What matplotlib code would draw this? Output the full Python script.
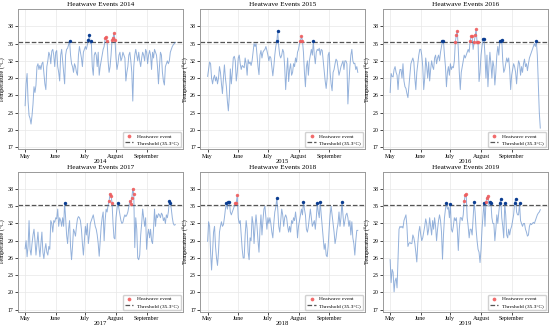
import numpy as np
import pandas as pd
import matplotlib
matplotlib.use("Agg")
import matplotlib.pyplot as plt
import matplotlib.dates as mdates

plt.rcParams['font.family'] = ['Liberation Serif', 'DejaVu Serif']

THRESHOLD = 35.3
years = [2014, 2015, 2016, 2017, 2018, 2019]

temps_2014 = [
    # May
    24.2, 28.0, 29.8, 25.0, 22.5, 22.0, 21.0, 22.5, 24.5, 27.5,
    26.5, 27.8, 31.0, 31.5, 30.5, 31.2, 30.5, 31.5, 31.8, 30.0,
    28.0, 27.0, 31.0, 32.0, 33.5, 33.0, 31.5, 33.7, 34.0, 33.0,
    31.0,
    # June
    33.5, 33.8, 31.0, 30.0, 28.5, 33.0, 34.0, 32.0, 30.0, 28.0,
    33.0, 34.0, 34.2, 34.8, 35.5, 33.0, 31.5, 31.0, 30.0, 31.5,
    31.0, 30.0, 29.5, 33.0, 34.5, 33.5, 32.5, 31.0, 33.5, 34.0,
    # July
    34.5, 34.0, 34.8, 35.7, 36.5, 35.0, 35.4, 31.0, 29.5, 33.0,
    33.5, 33.0, 31.0, 33.5, 29.5, 31.0, 32.0, 33.0, 34.0, 34.5,
    35.9, 36.2, 35.4, 32.0, 30.0, 31.0, 33.0, 35.6, 36.0, 36.8,
    35.6,
    # August
    32.5, 30.5, 31.5, 33.0, 33.5, 32.0, 32.5, 33.5, 33.0, 32.5,
    28.5, 30.0, 31.0, 33.0, 33.5, 32.0, 30.0, 25.0, 31.0, 33.0,
    34.0, 33.0, 32.0, 33.5, 32.0, 31.0, 32.5, 33.5, 33.0, 32.0,
    34.0,
    # September
    33.5, 31.5, 33.0, 33.8, 33.0, 30.5, 33.5, 32.5, 34.0, 33.5,
    33.0, 31.0, 28.0, 31.0, 33.5, 33.0, 30.0, 28.5, 27.8, 31.0,
    31.5, 32.0, 31.5, 32.0, 33.5, 34.0, 34.5, 34.8, 35.0, 35.2,
]

temps_2015 = [
    # May
    29.3, 30.5, 31.8, 31.5, 29.0, 28.0, 29.0, 29.5, 28.5, 29.2,
    28.0, 29.0, 31.0, 30.0, 28.0, 26.3, 29.0, 31.3, 29.0, 27.5,
    25.0, 23.3, 26.0, 30.6, 28.0, 30.0, 32.5, 32.8, 32.0, 28.5,
    30.0,
    # June
    32.5, 33.0, 31.5, 30.5, 31.2, 31.0, 30.8, 32.5, 31.5, 29.5,
    32.2, 31.5, 31.8, 31.2, 32.0, 33.5, 35.0, 34.5, 35.0, 33.0,
    31.0, 29.6, 33.0, 33.8, 32.5, 33.5, 33.8, 34.0, 34.5, 33.8,
    # July
    33.0, 32.0, 32.8, 32.5, 31.0, 29.4, 31.0, 33.0, 34.5, 35.4,
    37.2, 34.5, 33.0, 32.5, 33.0, 34.0, 33.5, 31.0, 27.0, 30.0,
    32.5, 28.4, 30.5, 31.5, 29.5, 30.0, 31.5, 31.0, 32.5, 31.8,
    33.5,
    # August
    34.0, 35.0, 35.5, 36.3, 35.5, 33.5, 30.0, 27.5, 31.0, 32.0,
    29.5, 32.0, 33.0, 34.0, 33.0, 35.4, 33.0, 31.5, 33.5, 34.0,
    33.8, 34.2, 33.0, 34.0, 33.8, 32.0, 30.0, 28.5, 27.2, 29.0,
    33.0,
    # September
    33.5, 30.0, 28.0, 26.8, 30.0, 30.5, 31.5, 32.3, 32.0, 30.8,
    29.5, 30.2, 31.0, 31.5, 32.0, 30.5, 32.0, 32.0, 31.5, 24.5,
    28.0, 31.0, 33.0, 34.0, 32.0, 31.5, 31.6, 30.5, 31.0, 30.0,
]

temps_2016 = [
    # May
    26.5, 29.8, 29.3, 29.2, 30.5, 31.0, 30.0, 29.5, 27.0, 29.5,
    30.5, 30.5, 29.0, 31.5, 28.5, 27.5, 27.2, 26.3, 25.6, 27.5,
    29.5, 31.5, 32.0, 32.5, 31.8, 29.0, 27.0, 30.0, 31.5, 33.0,
    34.0,
    # June
    34.0, 33.0, 31.0, 27.0, 29.0, 32.5, 31.0, 29.0, 31.8, 28.5,
    30.5, 32.0, 31.0, 30.5, 32.5, 33.0, 31.5, 32.5, 33.0, 32.0,
    33.5, 34.5, 35.5, 35.4, 33.0, 31.0, 27.5, 30.0, 31.0, 29.5,
    # July
    31.5, 30.5, 31.0, 30.8, 32.0, 35.3, 36.5, 37.2, 34.0, 30.0,
    27.0, 30.0, 31.0, 32.0, 33.0, 32.5, 33.0, 33.5, 34.0, 33.5,
    35.5, 36.3, 36.3, 34.0, 35.2, 36.5, 37.5, 35.3, 35.3, 28.4,
    30.0,
    # August
    33.0, 34.5, 35.8, 35.8, 33.0, 29.0, 33.0, 27.5, 31.0, 33.5,
    31.5, 29.0, 32.0, 31.0, 27.8, 30.0, 33.0, 34.5, 33.0, 35.4,
    35.5, 35.7, 32.0, 30.0, 30.5, 31.5, 32.5, 31.8, 32.5, 30.5,
    27.0,
    # September
    29.5, 30.5, 31.5, 31.0, 30.0, 28.0, 30.5, 32.0, 31.5, 29.5,
    31.0, 30.0, 31.5, 32.3, 31.0, 31.5, 30.3, 31.5, 32.5, 33.0,
    33.5, 34.0, 34.5, 35.0, 34.5, 35.4, 33.0, 28.0, 23.0, 20.3,
]

temps_2017 = [
    # May
    27.6, 29.0, 26.2, 28.0, 32.5, 27.5, 26.5, 28.5, 30.0, 31.0,
    29.0, 26.5, 28.5, 30.5, 28.0, 26.2, 28.5, 30.5, 27.0, 25.9,
    27.5, 28.5, 27.0, 26.5, 28.0, 27.5, 32.5, 32.0, 30.5, 32.5,
    32.2,
    # June
    33.0, 32.8, 34.5, 31.5, 33.0, 32.5, 31.5, 33.0, 31.5, 35.6,
    33.0, 30.0, 28.5, 31.0, 32.5, 28.0, 25.7, 28.0, 31.0, 30.5,
    29.8, 31.5, 32.8, 33.2, 33.0, 32.5, 31.0, 28.5, 26.5, 29.0,
    # July
    31.5, 30.0, 32.0, 28.5, 30.0, 32.0, 32.5, 33.0, 33.5, 32.5,
    31.5, 31.0, 30.0, 28.5, 26.3, 29.0, 31.5, 33.0, 34.0, 29.0,
    32.5, 34.5, 34.0, 35.2, 35.9, 37.2, 36.8, 35.6, 32.0, 29.5,
    29.3,
    # August
    33.0, 34.5, 35.6, 34.5, 33.5, 32.5, 32.0, 32.2, 33.0, 33.5,
    33.2, 33.5, 34.0, 35.0, 35.9, 35.4, 36.4, 38.0, 37.1, 27.8,
    33.0, 31.0, 26.0, 25.7, 26.5, 30.0, 32.0, 34.5, 33.0, 31.5,
    33.0,
    # September
    27.5, 30.0, 31.0, 29.5, 31.0, 29.0, 28.5, 31.0, 34.5, 31.5,
    33.5, 33.0, 33.7, 33.5, 33.0, 33.8, 33.5, 32.5, 33.0, 32.0,
    33.5, 33.0, 34.0, 35.9, 35.6, 34.5, 33.0, 32.0, 31.7, 31.8,
]

temps_2018 = [
    # May
    28.9, 32.3, 31.5, 27.0, 23.9, 27.0, 30.5, 31.5, 28.0, 26.0,
    24.7, 27.0, 30.5, 31.5, 32.3, 31.5, 31.8, 33.0, 34.5, 35.5,
    34.5, 35.8, 35.8, 34.0, 33.5, 34.0, 34.5, 35.0, 35.5, 35.6,
    36.9,
    # June
    33.0, 32.0, 32.5, 30.0, 27.5, 26.0, 26.0, 30.0, 32.5, 31.0,
    27.0, 25.7, 29.5, 29.0, 33.2, 32.0, 28.5, 31.5, 33.5, 31.5,
    29.0, 27.0, 31.0, 33.5, 30.0, 32.5, 34.5, 35.0, 33.0, 31.0,
    # July
    33.0, 32.0, 33.0, 32.0, 30.5, 29.5, 32.0, 34.0, 34.8, 36.4,
    34.5, 31.5, 30.5, 32.5, 34.5, 33.5, 31.5, 33.0, 33.5, 33.0,
    31.5, 30.5, 31.5, 30.5, 32.5, 32.0, 33.0, 32.5, 34.0, 32.5,
    29.5,
    # August
    31.5, 32.5, 33.5, 34.5, 33.5, 35.8, 34.5, 33.5, 31.0, 30.5,
    31.5, 33.0, 34.5, 33.0, 31.5, 32.0, 32.5, 31.0, 33.0, 35.5,
    34.0, 33.0, 35.8, 33.5, 31.5, 29.5, 27.5, 28.5, 26.5, 26.2,
    28.0,
    # September
    31.0, 33.5, 35.0, 33.5, 32.0, 30.5, 28.5, 29.5, 31.0, 32.0,
    34.0, 31.5, 33.0, 35.8, 33.5, 31.5, 32.5, 33.5, 33.8, 33.0,
    31.5, 32.5, 30.0, 32.3, 29.5, 28.5, 26.5, 29.0, 30.8, 30.8,
]

temps_2019 = [
    # May
    25.7, 21.7, 24.0, 23.5, 20.1, 22.0, 22.5, 20.8, 26.0, 31.0,
    31.5, 31.3, 31.5, 31.2, 32.5, 33.0, 33.5, 31.5, 28.0, 28.5,
    28.7, 28.5, 28.5, 30.0, 29.5, 28.5, 27.0, 25.3, 28.5, 30.5,
    31.5,
    # June
    30.0, 29.0, 29.5, 30.5, 31.5, 32.8, 32.0, 30.0, 31.0, 33.0,
    31.5, 30.0, 32.5, 31.0, 33.0, 31.5, 29.0, 31.0, 32.5, 33.5,
    32.5, 30.5, 25.8, 30.0, 33.0, 34.5, 35.6, 34.5, 34.8, 33.0,
    # July
    35.4, 31.0, 30.5, 31.5, 33.0, 32.5, 33.0, 31.0, 27.3, 31.0,
    33.0, 33.0, 32.5, 33.5, 35.9, 37.0, 37.1, 33.0, 31.5, 29.5,
    31.0, 31.0, 30.0, 33.0, 35.8, 34.0, 31.0, 29.0, 27.5, 27.0,
    25.2,
    # August
    27.5, 31.0, 33.5, 35.6, 31.5, 35.8, 36.5, 36.8, 35.0, 35.8,
    35.6, 33.0, 32.0, 32.0, 29.0, 31.0, 33.5, 32.0, 34.0, 35.5,
    36.3, 33.0, 31.5, 29.5, 35.5, 33.5, 30.0, 29.5, 31.0, 30.0,
    31.0,
    # September
    31.5, 32.5, 33.5, 35.5, 36.3, 34.0, 33.5, 33.5, 35.5, 32.5,
    32.0, 31.5, 32.0, 32.0, 31.0, 30.5, 29.8, 30.0, 31.5, 32.0,
    31.8, 32.0, 32.2, 32.0, 32.5, 33.0, 33.5, 33.8, 34.0, 34.4,
]

# days flagged as heatwave events (month-day)
heatwave_2014 = ['07-21', '07-22', '07-23', '07-28', '07-29', '07-30', '07-31']
heatwave_2015 = ['08-03', '08-04', '08-05']
heatwave_2016 = ['07-06', '07-07', '07-08', '07-21', '07-22', '07-23',
                 '07-25', '07-26', '07-27', '07-28', '07-29']
heatwave_2017 = ['07-25', '07-26', '07-27', '07-28',
                 '08-15', '08-16', '08-17', '08-18', '08-19']
heatwave_2018 = ['05-29', '05-30', '05-31']
heatwave_2019 = ['07-15', '07-16', '07-17', '08-06', '08-07', '08-08']

temps = [temps_2014, temps_2015, temps_2016, temps_2017, temps_2018, temps_2019]
heatwaves = [heatwave_2014, heatwave_2015, heatwave_2016,
             heatwave_2017, heatwave_2018, heatwave_2019]

LINE_COLOR = '#5b88c8'
HW_COLOR = '#f05c5c'
HOT_COLOR = '#0b3d91'

fig, axes = plt.subplots(2, 3, figsize=(5.5, 3.27), dpi=100)
fig.subplots_adjust(left=0.032, right=0.996, top=0.972, bottom=0.046,
                    wspace=0.105, hspace=0.16)

for ax, year, vals, hw in zip(axes.flat, years, temps, heatwaves):
    dates = pd.date_range(f'{year}-05-01', periods=len(vals), freq='D')
    s = pd.Series(vals, index=dates)
    hw_idx = pd.to_datetime([f'{year}-{d}' for d in hw])
    is_hw = s.index.isin(hw_idx)
    hot = (s > THRESHOLD) & ~is_hw

    ax.plot(s.index, s.values, color=LINE_COLOR, lw=0.7, alpha=0.65, zorder=2)
    ax.scatter(s.index[hot], s.values[hot], color=HOT_COLOR, s=6, zorder=3,
               linewidths=0)
    ax.scatter(s.index[is_hw], s.values[is_hw], color=HW_COLOR, s=6, zorder=4,
               linewidths=0, alpha=0.9, label='Heatwave event')
    ax.axhline(THRESHOLD, color='#555555', ls='--', lw=0.9,
               label=f'Threshold ({THRESHOLD}°C)', zorder=1)

    ax.set_ylim(16.6, 41)
    ax.set_yticks(np.arange(17, 39, 3))
    ax.xaxis.set_major_locator(mdates.MonthLocator(bymonth=range(5, 10)))
    ax.xaxis.set_major_formatter(mdates.DateFormatter('%B'))
    ax.tick_params(labelsize=4.2, length=2, width=0.5, pad=1)
    ax.grid(True, color='#e8e8e8', lw=0.5)
    ax.set_axisbelow(True)
    for sp in ax.spines.values():
        sp.set_color('#999999')
        sp.set_linewidth(0.7)

    ax.set_title(f'Heatwave Events {year}', fontsize=5.2, pad=2)
    ax.set_xlabel(str(year), fontsize=4.8, labelpad=0)
    ax.set_ylabel('Temperature (°C)', fontsize=4.6, labelpad=1)
    ax.legend(loc='lower right', fontsize=3.9, frameon=True, framealpha=0.9,
              edgecolor='#cccccc', handlelength=1.6, handletextpad=0.6,
              borderpad=0.4, labelspacing=0.25, markerscale=1.1,
              borderaxespad=0.4)

fig.savefig('out.png', dpi=100)
